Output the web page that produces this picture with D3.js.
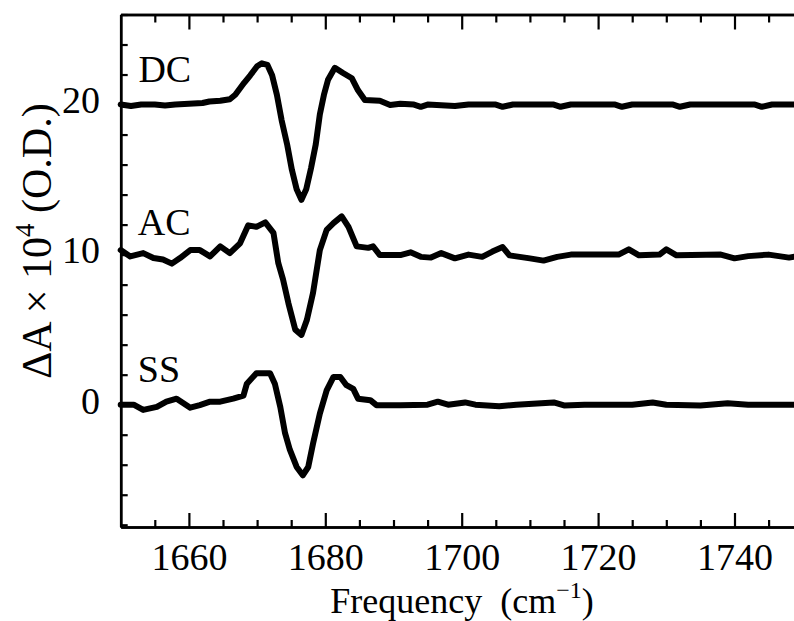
<!DOCTYPE html>
<html><head><meta charset="utf-8">
<script src="https://cdn.jsdelivr.net/npm/d3@7"></script>
<style>body{margin:0;background:#fff} svg{display:block}</style>
</head><body>
<script>
// ---------- data ----------
const dcFreq = [1650,1651.5,1653,1655,1656.5,1658,1660,1662,1663,1664.6,1666,1666.8,1668.1,1669,1670,1670.7,1671.5,1672.2,1672.9,1673.6,1674.4,1675.1,1675.8,1676.5,1677.2,1677.9,1678.6,1679.2,1679.8,1680.4,1681.4,1682.6,1683.9,1684.8,1685.8,1688,1689.5,1691,1693,1694,1695,1699,1701,1705,1706,1707.5,1713.5,1714.5,1716,1722.5,1723.5,1725,1731,1732,1733.5,1743,1744,1745.5,1750];
const dcVal  = [20.0,19.9,20.0,20.0,19.93,20.0,20.05,20.1,20.2,20.25,20.35,20.65,21.45,21.95,22.55,22.75,22.65,21.95,20.65,18.95,17.35,15.65,14.35,13.65,14.35,15.75,17.35,19.35,20.65,21.65,22.45,22.1,21.75,20.95,20.3,20.25,19.97,20.05,20.0,19.85,20.0,19.9,20.0,20.0,19.85,20.0,20.0,19.85,20.0,20.0,19.85,20.0,20.0,19.85,20.0,20.0,19.85,20.0,20.0];

const acFreq = [1650,1651.4,1653.3,1654.8,1656.2,1657.5,1658.7,1660.2,1661.6,1663.1,1664.6,1666,1667.5,1668.7,1669.9,1671.2,1672.4,1673.1,1673.8,1674.6,1675.6,1676.5,1677.3,1678.2,1679.2,1680.2,1681.2,1682.4,1683.4,1684.6,1686.3,1687,1688,1691,1692.5,1694,1695.5,1697,1699,1701,1703,1704.5,1706,1707,1710,1712,1714,1716,1723,1724.5,1726,1729,1730,1731.5,1738,1740,1742,1745,1748,1750];
const acVal  = [10.3,9.88,10.1,9.77,9.67,9.4,9.77,10.3,10.3,9.88,10.55,10.1,10.75,11.95,11.85,12.15,11.45,9.45,8.35,6.75,5.0,4.65,5.65,7.45,10.3,11.65,12.1,12.55,11.85,10.55,10.45,10.55,9.97,9.97,10.15,9.85,9.8,10.1,9.75,10.0,9.85,10.2,10.5,9.95,9.75,9.6,9.85,10.0,10.0,10.35,9.95,10.0,10.35,9.95,10.0,9.75,9.9,10.0,9.8,9.95];

const ssFreq = [1650,1651.9,1653.3,1655.3,1656.7,1658.2,1660.2,1661.6,1663.1,1664.6,1666.5,1668,1668.5,1669.9,1671.9,1672.6,1673.4,1674.1,1674.8,1675.8,1676.7,1677.5,1678.2,1679.2,1680.2,1681.2,1682.2,1683.1,1684.1,1684.8,1686.6,1687.5,1691,1695,1696.5,1698,1700.5,1702,1705.5,1708,1713.5,1715,1718,1725,1728,1730,1735,1739,1742,1750];
const ssVal  = [0.0,0.0,-0.35,-0.15,0.2,0.4,-0.2,-0.03,0.2,0.2,0.4,0.6,1.4,2.1,2.1,1.4,-0.15,-1.9,-3.0,-4.15,-4.7,-4.15,-2.6,-0.6,0.95,1.85,1.85,1.3,1.05,0.4,0.3,-0.03,-0.03,0.0,0.2,0.0,0.15,0.0,-0.1,0.0,0.15,-0.05,0.0,0.0,0.15,0.0,-0.05,0.1,0.0,0.0];

const seriesNames = ["DC","AC","SS"];
const seriesLabelPos = [[1652.6,21.5],[1652.5,11.3],[1652.5,1.5]];
const xMajorTicks = [1660,1680,1700,1720,1740];
const xMinorTicks = d3.range(1655,1750,5);
const yMajorTicks = [0,10,20];
const yMinorTicks = d3.range(-8,27,2);
const xDomain = [1650,1750];
const yDomain = [-8.15,26];

// ---------- layout ----------
const W = 794, H = 621;
const L = 120.7, R = 802.7, T = 14.5, B = 527;
const svg = d3.select("body").append("svg").attr("width",W).attr("height",H);
const x = d3.scaleLinear().domain(xDomain).range([L,R]);
const y = d3.scaleLinear().domain(yDomain).range([B,T]);
const font = "'Liberation Serif','Times New Roman',serif";

function style(g){
  g.selectAll(".domain").attr("stroke","#000").attr("stroke-width",2.5);
  g.selectAll(".tick line").attr("stroke","#000").attr("stroke-width",2.2);
  g.selectAll("text").attr("font-family",font).attr("fill","#000");
}

// bottom
svg.append("g").attr("transform",`translate(0,${B})`)
  .call(d3.axisBottom(x).tickValues(xMinorTicks.filter(v=>!xMajorTicks.includes(v))).tickSize(-7).tickSizeOuter(0).tickFormat(""))
  .call(style);
svg.append("g").attr("transform",`translate(0,${B})`)
  .call(d3.axisBottom(x).tickValues(xMajorTicks).tickSize(-14).tickSizeOuter(0).tickPadding(16).tickFormat(d3.format("d")))
  .call(style)
  .call(g=>g.selectAll("text").attr("font-size",38));
// top
svg.append("g").attr("transform",`translate(0,${T})`)
  .call(d3.axisTop(x).tickValues(xMinorTicks.filter(v=>!xMajorTicks.includes(v))).tickSize(-8).tickSizeOuter(0).tickFormat(""))
  .call(style);
svg.append("g").attr("transform",`translate(0,${T})`)
  .call(d3.axisTop(x).tickValues(xMajorTicks).tickSize(-15).tickSizeOuter(0).tickFormat(""))
  .call(style);
// left
svg.append("g").attr("transform",`translate(${L},0)`)
  .call(d3.axisLeft(y).tickValues(yMinorTicks.filter(v=>!yMajorTicks.includes(v))).tickSize(-7).tickSizeOuter(0).tickFormat(""))
  .call(style);
svg.append("g").attr("transform",`translate(${L},0)`)
  .call(d3.axisLeft(y).tickValues(yMajorTicks).tickSize(-14).tickSizeOuter(0).tickPadding(20.7).tickFormat(d3.format("d")))
  .call(style)
  .call(g=>g.selectAll("text").attr("font-size",38).attr("dy","0.22em"));
// right (outside the visible area)
svg.append("g").attr("transform",`translate(${R},0)`)
  .call(d3.axisRight(y).tickValues(yMinorTicks).tickSize(-7).tickSizeOuter(0).tickFormat(""))
  .call(style);

// lines
const series = [
  {name:"DC", f:dcFreq, v:dcVal},
  {name:"AC", f:acFreq, v:acVal},
  {name:"SS", f:ssFreq, v:ssVal}
];
const line = d3.line().x(d=>x(d[0])).y(d=>y(d[1]));
series.forEach(s=>{
  svg.append("path")
    .datum(s.f.map((f,i)=>[f,s.v[i]]))
    .attr("d",line)
    .attr("fill","none").attr("stroke","#000")
    .attr("stroke-width",6).attr("stroke-linejoin","round").attr("stroke-linecap","round");
});

// series labels
seriesNames.forEach((n,i)=>{
  svg.append("text").attr("x",x(seriesLabelPos[i][0])).attr("y",y(seriesLabelPos[i][1]))
    .attr("font-family",font).attr("font-size",38).attr("fill","#000").text(n);
});

// x label
const xl = svg.append("text").attr("x",462).attr("y",613).attr("text-anchor","middle")
  .attr("font-family",font).attr("font-size",36).attr("fill","#000").style("white-space","pre");
xl.append("tspan").text("Frequency\u00a0\u00a0(cm");
xl.append("tspan").attr("font-size",24).attr("dy",-15).text("\u22121");
xl.append("tspan").attr("dy",15).text(")");

// y label
const yl = svg.append("text").attr("transform","translate(51,241) rotate(-90)").attr("text-anchor","middle")
  .attr("font-family",font).attr("font-size",42).attr("fill","#000");
yl.append("tspan").text("\u0394A \u00d7 10");
yl.append("tspan").attr("font-size",27).attr("dy",-17).text("4");
yl.append("tspan").attr("dy",17).text(" (O.D.)");
</script>
</body></html>
